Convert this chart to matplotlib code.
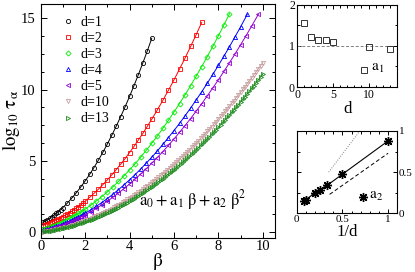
import numpy as np
import matplotlib
matplotlib.use("Agg")
import matplotlib.pyplot as plt
from matplotlib.lines import Line2D
from matplotlib.ticker import MultipleLocator, FuncFormatter

plt.rcParams['font.family'] = ['Liberation Serif', 'DejaVu Serif']
plt.rcParams['mathtext.fontset'] = 'stix'

# ---------------- data ----------------
labels = ["d=1", "d=2", "d=3", "d=4", "d=5", "d=10", "d=13"]

beta_d1 = [0.1, 0.2, 0.3, 0.4, 0.5, 0.6, 0.7, 0.8, 0.9, 1.0,
           1.2, 1.4, 1.6, 1.8, 2.0, 2.2, 2.4, 2.6, 2.8, 3.0,
           3.2, 3.4, 3.6, 3.8, 4.0, 4.2, 4.4, 4.6, 4.8, 5.0]
tau_d1 = [0.68, 0.76, 0.86, 0.96, 1.07, 1.18, 1.31, 1.44, 1.57, 1.72,
          2.03, 2.38, 2.75, 3.15, 3.58, 4.04, 4.53, 5.05, 5.60, 6.18,
          6.79, 7.43, 8.10, 8.79, 9.52, 10.28, 11.06, 11.88, 12.72, 13.60]

beta_d2 = [0.1, 0.2, 0.3, 0.4, 0.5, 0.6, 0.7, 0.8, 0.9, 1.0,
           1.1, 1.2, 1.3, 1.4, 1.5, 1.6, 1.7, 1.8, 1.9, 2.0,
           2.2, 2.4, 2.6, 2.8, 3.0, 3.2, 3.4, 3.6, 3.8, 4.0,
           4.2, 4.4, 4.6, 4.8, 5.0, 5.25, 5.5, 5.75, 6.0, 6.25,
           6.5, 6.75, 7.0, 7.25]
tau_d2 = [0.47, 0.52, 0.57, 0.63, 0.70, 0.77, 0.84, 0.91, 1.00, 1.08,
          1.17, 1.26, 1.36, 1.46, 1.57, 1.68, 1.79, 1.91, 2.03, 2.16,
          2.43, 2.71, 3.01, 3.33, 3.66, 4.01, 4.38, 4.76, 5.16, 5.58,
          6.01, 6.47, 6.93, 7.42, 7.92, 8.57, 9.25, 9.95, 10.68, 11.44,
          12.22, 13.03, 13.86, 14.72]

beta_d3 = [0.1, 0.2, 0.3, 0.4, 0.5, 0.6, 0.7, 0.8, 0.9, 1.0,
           1.1, 1.2, 1.3, 1.4, 1.5, 1.6, 1.7, 1.8, 1.9, 2.0,
           2.25, 2.5, 2.75, 3.0, 3.25, 3.5, 3.75, 4.0, 4.25, 4.5,
           4.75, 5.0, 5.25, 5.5, 5.75, 6.0, 6.25, 6.5, 6.75, 7.0,
           7.25, 7.5, 7.75, 8.0, 8.25, 8.5]
tau_d3 = [0.19, 0.24, 0.28, 0.34, 0.39, 0.45, 0.51, 0.57, 0.64, 0.71,
          0.79, 0.86, 0.95, 1.03, 1.12, 1.21, 1.30, 1.40, 1.50, 1.60,
          1.88, 2.17, 2.48, 2.82, 3.17, 3.55, 3.94, 4.36, 4.79, 5.25,
          5.73, 6.23, 6.74, 7.28, 7.84, 8.42, 9.02, 9.64, 10.28, 10.94,
          11.62, 12.32, 13.04, 13.78, 14.54, 15.33]

beta_d4 = [0.1, 0.2, 0.3, 0.4, 0.5, 0.6, 0.7, 0.8, 0.9, 1.0,
           1.1, 1.2, 1.3, 1.4, 1.5, 1.6, 1.7, 1.8, 1.9, 2.0,
           2.25, 2.5, 2.75, 3.0, 3.25, 3.5, 3.75, 4.0, 4.25, 4.5,
           4.75, 5.0, 5.25, 5.5, 5.75, 6.0, 6.25, 6.5, 6.75, 7.0,
           7.25, 7.5, 7.75, 8.0, 8.25, 8.5, 8.75, 9.0, 9.3]
tau_d4 = [0.13, 0.17, 0.21, 0.25, 0.30, 0.35, 0.40, 0.45, 0.51, 0.57,
          0.63, 0.70, 0.77, 0.84, 0.91, 0.99, 1.07, 1.15, 1.23, 1.32,
          1.55, 1.80, 2.07, 2.35, 2.65, 2.97, 3.31, 3.66, 4.03, 4.42,
          4.83, 5.25, 5.69, 6.15, 6.63, 7.12, 7.63, 8.16, 8.71, 9.27,
          9.85, 10.45, 11.07, 11.70, 12.35, 13.02, 13.71, 14.41, 15.28]

beta_d5 = [0.1, 0.2, 0.3, 0.4, 0.5, 0.6, 0.7, 0.8, 0.9, 1.0,
           1.1, 1.2, 1.3, 1.4, 1.5, 1.6, 1.7, 1.8, 1.9, 2.0,
           2.25, 2.5, 2.75, 3.0, 3.25, 3.5, 3.75, 4.0, 4.25, 4.5,
           4.75, 5.0, 5.25, 5.5, 5.75, 6.0, 6.25, 6.5, 6.75, 7.0,
           7.25, 7.5, 7.75, 8.0, 8.25, 8.5, 8.75, 9.0, 9.25, 9.5, 9.8]
tau_d5 = [0.08, 0.12, 0.16, 0.20, 0.25, 0.29, 0.34, 0.39, 0.45, 0.51,
          0.56, 0.63, 0.69, 0.76, 0.83, 0.90, 0.97, 1.05, 1.13, 1.21,
          1.43, 1.66, 1.90, 2.17, 2.44, 2.74, 3.05, 3.37, 3.71, 4.07,
          4.44, 4.83, 5.23, 5.65, 6.08, 6.53, 7.00, 7.48, 7.97, 8.49,
          9.01, 9.56, 10.12, 10.69, 11.28, 11.89, 12.51, 13.15, 13.80, 14.47, 15.29]

beta_d10 = [0.1, 0.2, 0.3, 0.4, 0.5, 0.6, 0.7, 0.8, 0.9, 1.0,
            1.1, 1.2, 1.3, 1.4, 1.5, 1.6, 1.7, 1.8, 1.9, 2.0,
            2.1, 2.2, 2.3, 2.4, 2.5, 2.6, 2.7, 2.8, 2.9, 3.0,
            3.1, 3.2, 3.3, 3.4, 3.5, 3.6, 3.7, 3.8, 3.9, 4.0,
            4.1, 4.2, 4.3, 4.4, 4.5, 4.6, 4.7, 4.8, 4.9, 5.0,
            5.1, 5.2, 5.3, 5.4, 5.5, 5.6, 5.7, 5.8, 5.9, 6.0,
            6.1, 6.2, 6.3, 6.4, 6.5, 6.6, 6.7, 6.8, 6.9, 7.0,
            7.1, 7.2, 7.3, 7.4, 7.5, 7.6, 7.7, 7.8, 7.9, 8.0,
            8.1, 8.2, 8.3, 8.4, 8.5, 8.6, 8.7, 8.8, 8.9, 9.0,
            9.1, 9.2, 9.3, 9.4, 9.5, 9.6, 9.7, 9.8, 9.9, 10.0]
tau_d10 = [0.02, 0.04, 0.07, 0.10, 0.12, 0.16, 0.19, 0.22, 0.26, 0.30,
           0.34, 0.38, 0.43, 0.47, 0.52, 0.57, 0.63, 0.68, 0.74, 0.80,
           0.86, 0.92, 0.98, 1.05, 1.12, 1.19, 1.26, 1.34, 1.41, 1.49,
           1.57, 1.65, 1.74, 1.82, 1.91, 2.00, 2.10, 2.19, 2.29, 2.38,
           2.48, 2.59, 2.69, 2.80, 2.90, 3.01, 3.13, 3.24, 3.36, 3.48,
           3.59, 3.72, 3.84, 3.97, 4.09, 4.22, 4.36, 4.49, 4.63, 4.76,
           4.90, 5.05, 5.19, 5.34, 5.48, 5.63, 5.78, 5.94, 6.09, 6.25,
           6.41, 6.57, 6.74, 6.90, 7.07, 7.24, 7.41, 7.58, 7.76, 7.94,
           8.12, 8.30, 8.48, 8.67, 8.85, 9.04, 9.23, 9.43, 9.62, 9.82,
           10.02, 10.22, 10.42, 10.63, 10.83, 11.04, 11.25, 11.47, 11.68, 11.90]

beta_d13 = list(beta_d10)
tau_d13 = [0.02, 0.04, 0.06, 0.08, 0.10, 0.13, 0.16, 0.19, 0.22, 0.26,
           0.29, 0.33, 0.37, 0.41, 0.45, 0.50, 0.55, 0.60, 0.65, 0.70,
           0.75, 0.81, 0.87, 0.93, 0.99, 1.06, 1.12, 1.19, 1.26, 1.34,
           1.41, 1.48, 1.56, 1.64, 1.72, 1.81, 1.89, 1.98, 2.07, 2.16,
           2.25, 2.35, 2.44, 2.54, 2.64, 2.75, 2.85, 2.96, 3.06, 3.18,
           3.29, 3.40, 3.52, 3.63, 3.75, 3.88, 4.00, 4.12, 4.25, 4.38,
           4.51, 4.64, 4.78, 4.92, 5.05, 5.19, 5.34, 5.48, 5.63, 5.78,
           5.92, 6.08, 6.23, 6.39, 6.54, 6.70, 6.86, 7.03, 7.19, 7.36,
           7.53, 7.70, 7.87, 8.05, 8.22, 8.40, 8.58, 8.76, 8.95, 9.14,
           9.32, 9.51, 9.70, 9.90, 10.09, 10.29, 10.49, 10.69, 10.89, 11.10]

# inset data
d_vals = [1, 2, 3, 4, 5, 10, 13]
a1_vals = [1.55, 1.22, 1.15, 1.13, 1.10, 0.98, 0.92]
inv_d = [1.0, 0.5, 1/3, 0.25, 0.2, 0.1, 1/13]
a2_vals = [0.88, 0.475, 0.34, 0.285, 0.25, 0.165, 0.145]
dotted_x = [0.35, 0.69]
dotted_y = [0.50, 1.00]
dashed_x = [0.36, 1.0]
dashed_y = [0.23, 0.73]

series = [(beta_d1, tau_d1), (beta_d2, tau_d2), (beta_d3, tau_d3), (beta_d4, tau_d4),
          (beta_d5, tau_d5), (beta_d10, tau_d10), (beta_d13, tau_d13)]
colors = ['black', 'red', '#00EE00', 'blue', '#9400D3', '#C9A0A0', '#1E8C1E']
markers = ['o', 's', 'D', '^', '<', 'v', '>']
msizes = [3.0, 3.0, 2.6, 3.0, 3.0, 3.0, 3.0]

fig = plt.figure(figsize=(4.15, 2.72), dpi=100)

def style(ax, fs):
    ax.tick_params(which='both', direction='in', top=True, right=True, labelsize=fs, width=0.7)
    ax.tick_params(which='major', length=4)
    ax.tick_params(which='minor', length=2)
    for s in ax.spines.values():
        s.set_linewidth(0.8)

# ---------------- main panel ----------------
ax = fig.add_axes([40.7/415, 1-237.7/272, (275-40.7)/415, (237.7-3.5)/272])
handles = []
for (b, t), c, m, ms, lab in zip(series, colors, markers, msizes, labels):
    ax.plot(b, t, '-', color=c, lw=0.7)
    ax.plot(b, t, m, color=c, mfc='none', mew=0.6, ms=ms, ls='none')
    handles.append(Line2D([], [], marker=m, color=c, mfc='none', mew=0.6, ms=ms, ls='none', label=lab))
ax.set_xlim(0, 10.55)
ax.set_ylim(-0.4, 16.05)
ax.xaxis.set_major_locator(MultipleLocator(2))
ax.xaxis.set_minor_locator(MultipleLocator(1))
ax.yaxis.set_major_locator(MultipleLocator(5))
ax.yaxis.set_minor_locator(MultipleLocator(1.25))
style(ax, 10.5)
ax.tick_params(axis='x', pad=2)
ax.set_xlabel(r'$\mathrm{\beta}$', fontsize=14, labelpad=-2)
ax.set_ylabel(r'$\mathrm{log_{10}}\ \mathrm{\tau_{\alpha}}$', fontsize=13.5, labelpad=-1)
ax.legend(handles=handles, loc='upper left', bbox_to_anchor=(0.07, 0.97), frameon=False,
          fontsize=10, handlelength=0.8, handletextpad=0.5, labelspacing=0.22, borderaxespad=0)
ax.text(4.43, 2.25, r'$\mathrm{a_0 + a_1\ \beta + a_2\ \beta^2}$', fontsize=12, va='center', ha='left')

# ---------------- top inset ----------------
ax1 = fig.add_axes([297/415, 1-87/272, (397.3-297)/415, (87-4.5)/272])
ax1.plot([0, 13.3], [1, 1], ls=(0, (3, 2)), color='gray', lw=0.7)
ax1.plot(d_vals, a1_vals, 's', mfc='none', mec='#333333', mew=0.7, ms=5, ls='none')
ax1.plot([9.3], [0.42], 's', mfc='none', mec='#333333', mew=0.7, ms=5)
ax1.text(10.3, 0.45, r'$\mathrm{a_1}$', fontsize=11, va='center', ha='left')
ax1.set_xlim(0, 14)
ax1.set_ylim(0, 2)
ax1.xaxis.set_major_locator(MultipleLocator(5))
ax1.xaxis.set_minor_locator(MultipleLocator(1))
ax1.yaxis.set_major_locator(MultipleLocator(1))
ax1.yaxis.set_minor_locator(MultipleLocator(0.5))
style(ax1, 8.5)
ax1.tick_params(which='major', length=3, pad=1.5)
ax1.tick_params(which='minor', length=1.8)
ax1.set_xlabel('d', fontsize=12, labelpad=0)

# ---------------- bottom inset ----------------
ax2 = fig.add_axes([296.7/415, 1-213.3/272, (397.3-296.7)/415, (213.3-131)/272])
ax2.plot(dotted_x, dotted_y, ls=(0, (1, 1.5)), color='gray', lw=0.7)
ax2.plot(dashed_x, dashed_y, ls=(0, (4, 2.5)), color='black', lw=0.7)
ax2.plot(inv_d, a2_vals, '-', color='black', lw=0.8)
ax2.plot(inv_d, a2_vals, ls='none', marker=(8, 2, 0), color='black', ms=6.5, mew=1.0)
ax2.plot([0.72], [0.2], ls='none', marker=(8, 2, 0), color='black', ms=6.5, mew=1.0)
ax2.text(0.79, 0.2, r'$\mathrm{a_2}$', fontsize=11, va='center', ha='left')
ax2.set_xlim(0, 1.1)
ax2.set_ylim(0, 1)
ax2.xaxis.set_major_locator(MultipleLocator(0.5))
ax2.xaxis.set_minor_locator(MultipleLocator(0.1))
ax2.yaxis.set_major_locator(MultipleLocator(0.5))
ax2.yaxis.set_minor_locator(MultipleLocator(0.25))
style(ax2, 8)
ax2.tick_params(which='major', length=3, pad=1.5)
ax2.tick_params(which='minor', length=1.8)
ax2.tick_params(axis='y', labelleft=False, labelright=True, pad=1)
ax2.yaxis.set_major_formatter(FuncFormatter(lambda v, p: f'{v:g}'))
ax2.xaxis.set_major_formatter(FuncFormatter(lambda v, p: f'{v:g}'))
ax2.set_xlabel('1/d', fontsize=12, labelpad=0)

fig.savefig('out.png', dpi=100)
